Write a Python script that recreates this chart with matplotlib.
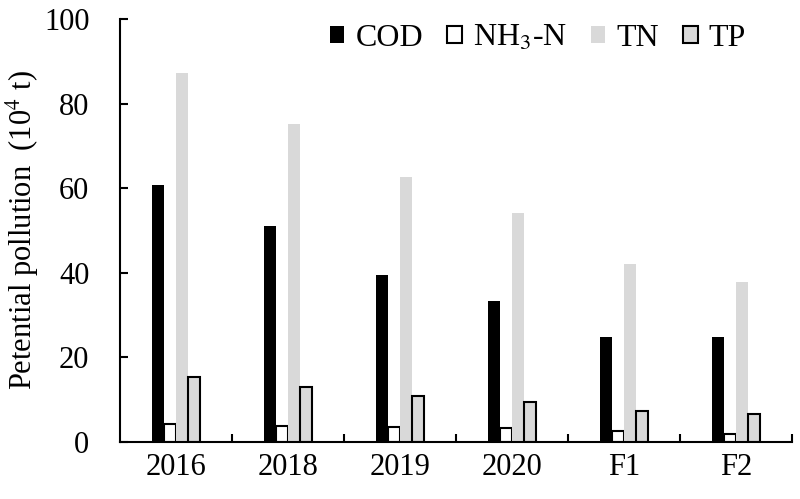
import numpy as np
import matplotlib.pyplot as plt

plt.rcParams['font.family'] = ['Liberation Serif', 'DejaVu Serif']
plt.rcParams['mathtext.fontset'] = 'stix'

categories = ['2016', '2018', '2019', '2020', 'F1', 'F2']
cod = [60.8, 51.1, 39.5, 33.3, 24.8, 24.8]
nh3 = [4.2, 3.8, 3.5, 3.3, 2.6, 1.9]
tn = [87.2, 75.2, 62.6, 54.1, 42.1, 37.8]
tp = [15.4, 13.0, 10.9, 9.5, 7.3, 6.6]

fig = plt.figure(figsize=(8, 4.99), dpi=100)
ax = fig.add_axes([0.15, 0.114, 0.84, 0.848])

x = np.arange(len(categories))
w = 0.108
ax.bar(x - 1.5 * w, cod, w, color='black', label='COD')
ax.bar(x - 0.5 * w, nh3, w, color='white', edgecolor='black', linewidth=1.5, label='NH$_3$-N')
ax.bar(x + 0.5 * w, tn, w, color='#d9d9d9', label='TN')
ax.bar(x + 1.5 * w, tp, w, color='#d9d9d9', edgecolor='black', linewidth=1.5, label='TP')

ax.set_xlim(-0.5, len(categories) - 0.5)
ax.set_ylim(0, 100)
ax.set_yticks([0, 20, 40, 60, 80, 100])
ax.set_xticks(x)
ax.set_xticklabels(categories)
ax.set_xticks(x + 0.5, minor=True)
ax.tick_params(axis='x', which='major', length=0, labelsize=22, pad=8)
ax.tick_params(axis='x', which='minor', direction='in', length=6, width=1.5)
ax.tick_params(axis='y', direction='in', length=6, width=1.5, labelsize=22, pad=22)

for s in ['top', 'right']:
    ax.spines[s].set_visible(False)
for s in ['left', 'bottom']:
    ax.spines[s].set_linewidth(1.5)

ax.set_ylabel('Petential pollution  (10$^4$ t)', fontsize=22, labelpad=2)

ax.legend(loc='center left', bbox_to_anchor=(0.3125, 0.955), ncol=4, frameon=False,
          fontsize=23, handlelength=0.45, handleheight=0.45, handletextpad=0.35,
          columnspacing=0.75, borderpad=0, borderaxespad=0)

fig.savefig('out.png', dpi=100)
